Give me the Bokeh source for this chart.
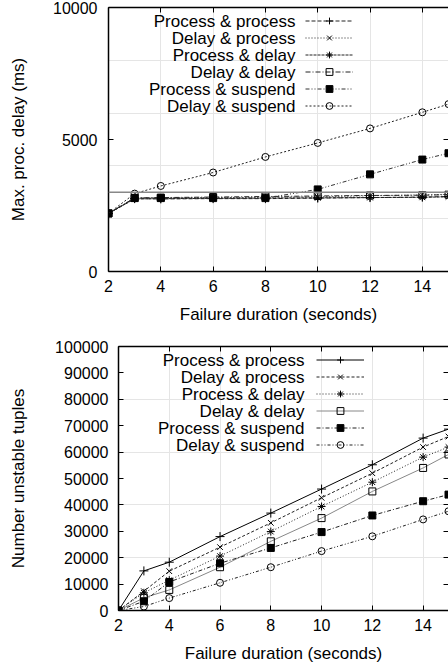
from bokeh.plotting import figure
from bokeh.models import (Range1d, FixedTicker, LinearAxis, Legend, LegendItem, Label, Span,
                          BasicTickFormatter)
from bokeh.layouts import column
from bokeh.embed import file_html
from bokeh.resources import INLINE

# ---------------- data ----------------
durations = [2, 3, 4, 6, 8, 10, 12, 14, 15]
series_names = ["Process & process", "Delay & process", "Process & delay",
                "Delay & delay", "Process & suspend", "Delay & suspend"]

delay_pp = [2200, 2760, 2750, 2760, 2760, 2780, 2800, 2820, 2840]
delay_dp = [2200, 2780, 2790, 2800, 2810, 2830, 2870, 2900, 2920]
delay_pd = [2200, 2750, 2760, 2770, 2780, 2790, 2800, 2810, 2830]
delay_dd = [2200, 2790, 2800, 2820, 2840, 2860, 2880, 2890, 2910]
delay_ps = [2200, 2780, 2780, 2780, 2780, 3110, 3680, 4240, 4480]
delay_ds = [2200, 2950, 3240, 3750, 4340, 4870, 5420, 6030, 6340]
threshold_ms = 3000

tuples_pp = [0, 15000, 18300, 28000, 36900, 46000, 55200, 65300, 68700]
tuples_dp = [0, 7300, 14900, 24000, 33200, 42700, 52000, 61900, 65900]
tuples_pd = [0, 6700, 11500, 20600, 29900, 39400, 48600, 58100, 61900]
tuples_dd = [0, 4800, 7800, 16400, 26200, 35000, 45100, 54000, 59100]
tuples_ps = [0, 3500, 10800, 17900, 23700, 29700, 36000, 41400, 43900]
tuples_ds = [0, 1500, 4700, 10500, 16400, 22500, 28100, 34500, 37600]

x_ticks = [2, 4, 6, 8, 10, 12, 14]
delay_ticks = [0, 5000, 10000]
tuple_ticks = [0, 10000, 20000, 30000, 40000, 50000, 60000, 70000, 80000, 90000, 100000]

FONT = "Liberation Sans"
XLABEL = "Failure duration (seconds)"


def make_fig(height, b_left, b_top, b_bottom, y_end, y_ticks, ylabel,
             lbl_standoff, axlbl_standoff):
    p = figure(width=448, height=height, x_range=Range1d(2, 15),
               y_range=Range1d(0, y_end), output_backend="svg",
               toolbar_location=None, x_axis_location=None, y_axis_location=None,
               min_border_left=b_left, min_border_right=0,
               min_border_top=b_top, min_border_bottom=b_bottom)
    p.frame_align = False
    p.outline_line_color = None
    p.background_fill_color = "white"
    p.border_fill_color = "white"
    xt = FixedTicker(ticks=x_ticks)
    yt = FixedTicker(ticks=y_ticks)
    bottom = LinearAxis(ticker=xt, axis_label=XLABEL)
    left = LinearAxis(ticker=yt, axis_label=ylabel,
                      formatter=BasicTickFormatter(use_scientific=False))
    top = LinearAxis(ticker=xt)
    right = LinearAxis(ticker=yt)
    for ax in (bottom, left, top, right):
        ax.major_tick_in = 5
        ax.major_tick_out = 0
        ax.minor_tick_line_color = None
        ax.axis_line_width = 1.5
        ax.axis_line_color = "black"
        ax.major_tick_line_color = "black"
        ax.major_tick_line_width = 1
        ax.major_label_text_font = FONT
        ax.major_label_text_font_size = "16px"
        ax.major_label_text_color = "black"
        ax.axis_label_text_font = FONT
        ax.axis_label_text_font_size = "17px"
        ax.axis_label_text_font_style = "normal"
        ax.axis_label_text_color = "black"
    for ax in (top, right):
        ax.major_label_text_font_size = "1px"
        ax.major_label_text_color = None
        ax.major_label_standoff = 0
        ax.axis_label = None
    right.axis_line_color = None
    bottom.major_label_standoff = 8
    bottom.axis_label_standoff = 10
    left.major_label_standoff = lbl_standoff
    left.axis_label_standoff = axlbl_standoff
    p.add_layout(bottom, "below")
    p.add_layout(left, "left")
    p.add_layout(top, "above")
    p.add_layout(right, "right")
    return p


def add_series(p, ys, style):
    color, dash, width, marker, msize, fill = style
    r_line = p.line(durations, ys, line_color=color, line_dash=dash, line_width=width)
    r_mark = p.scatter(durations, ys, marker=marker, size=msize, line_color="black",
                       line_width=1, fill_color=fill)
    return [r_line, r_mark]


def add_legend(p, items_renderers, frame_h, vx, top_off, text_x, row_h=17):
    n = len(items_renderers)
    items = [LegendItem(label=" ", renderers=r) for r in items_renderers]
    vy = frame_h - top_off - n * row_h
    leg = Legend(items=items, location=(vx, vy), glyph_width=48, glyph_height=row_h,
                 label_height=row_h, label_width=0, label_standoff=0, spacing=0,
                 padding=0, margin=0, border_line_color=None, background_fill_alpha=0,
                 label_text_font_size="1px", label_text_color=None)
    p.add_layout(leg)
    for i, name in enumerate(series_names):
        y = frame_h - top_off - row_h * i - row_h / 2
        p.add_layout(Label(x=text_x, y=y, x_units="screen", y_units="screen", text=name,
                           text_align="right", text_baseline="middle",
                           text_font=FONT, text_font_size="17px", text_color="black"))


# ---------------- top chart ----------------
p1 = make_fig(330, 108, 7, 59, 10000, delay_ticks, "Max. proc. delay (ms)", 11, 22)
p1.add_layout(Span(location=threshold_ms, dimension="width", line_color="#888888",
                   line_width=1.5))
top_styles = [
    ("#222222", "4 2", 1, "cross", 9, None),
    ("#222222", "1 2", 1, "x", 8, None),
    ("#222222", "3 1", 1, "asterisk", 8, None),
    ("#222222", "5 2 1 2", 1, "square", 7, None),
    ("#333333", "4 2 1 2 1 2", 1, "square", 7, "black"),
    ("#222222", "2 2", 1, "circle", 7, None),
]
top_data = [delay_pp, delay_dp, delay_pd, delay_dd, delay_ps, delay_ds]
top_rs = [add_series(p1, ys, st) for ys, st in zip(top_data, top_styles)]
add_legend(p1, top_rs, 264, 197, 5, 187)

# ---------------- bottom chart ----------------
p2 = make_fig(339, 118, 16, 59, 100000, tuple_ticks, "Number unstable tuples", 10, 24)
bot_styles = [
    ("black", "solid", 1, "cross", 9, None),
    ("#222222", "3 2", 1, "x", 8, None),
    ("#222222", "1 2", 1, "asterisk", 8, None),
    ("#888888", "solid", 1, "square", 7, None),
    ("#222222", "4 2 1 2", 1, "square", 7, "black"),
    ("#222222", "3 2 1 2 1 2", 1, "circle", 7, None),
]
bot_data = [tuples_pp, tuples_dp, tuples_pd, tuples_dd, tuples_ps, tuples_ds]
bot_rs = [add_series(p2, ys, st) for ys, st in zip(bot_data, bot_styles)]
add_legend(p2, bot_rs, 264, 198, 5, 186)

layout = column(p1, p2)
open("out.html", "w").write(file_html(layout, INLINE))
